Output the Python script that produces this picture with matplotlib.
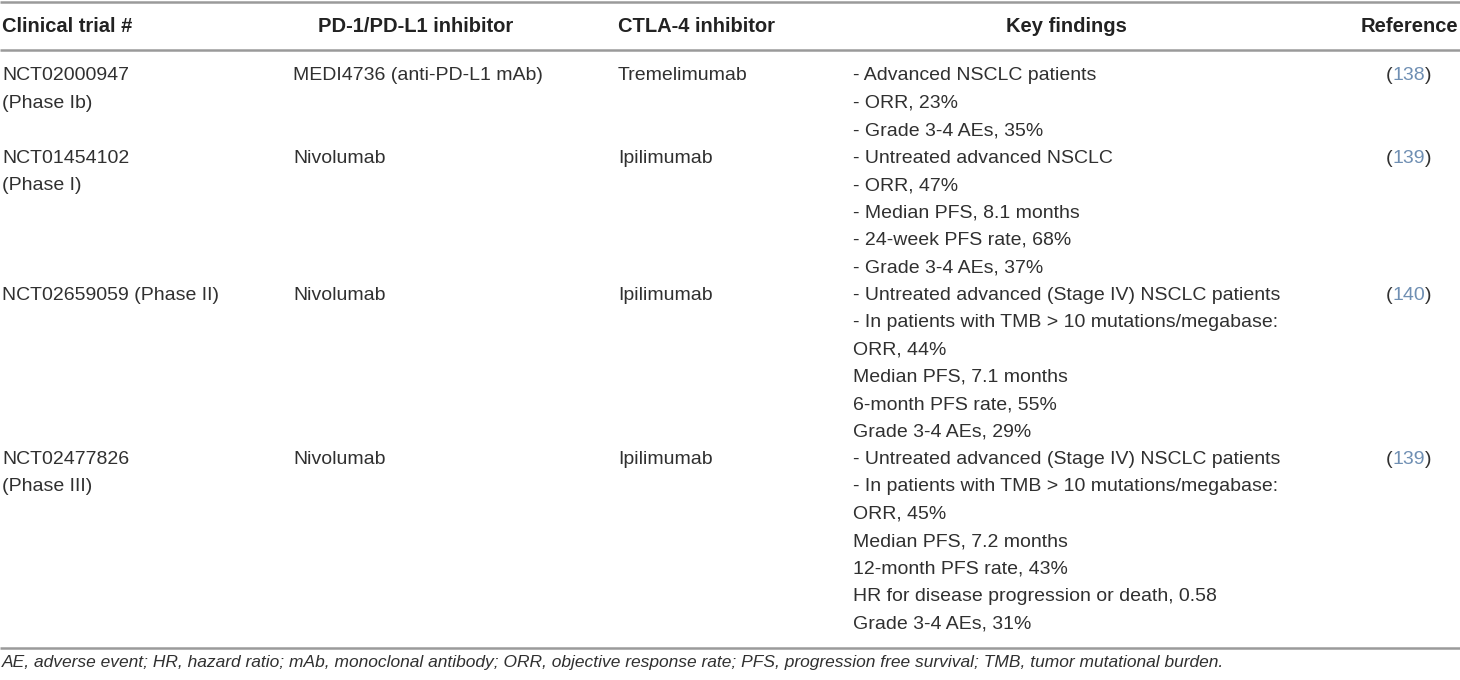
import matplotlib
matplotlib.use('Agg')
from matplotlib import pyplot

# table content
headers = ['Clinical trial #', 'PD-1/PD-L1 inhibitor', 'CTLA-4 inhibitor', 'Key findings', 'Reference']
trials = [['NCT02000947', '(Phase Ib)'],
          ['NCT01454102', '(Phase I)'],
          ['NCT02659059 (Phase II)'],
          ['NCT02477826', '(Phase III)']]
pd1_drugs = ['MEDI4736 (anti-PD-L1 mAb)', 'Nivolumab', 'Nivolumab', 'Nivolumab']
ctla4_drugs = ['Tremelimumab', 'Ipilimumab', 'Ipilimumab', 'Ipilimumab']
findings = [
    ['- Advanced NSCLC patients',
     '- ORR, 23%',
     '- Grade 3-4 AEs, 35%'],
    ['- Untreated advanced NSCLC',
     '- ORR, 47%',
     '- Median PFS, 8.1 months',
     '- 24-week PFS rate, 68%',
     '- Grade 3-4 AEs, 37%'],
    ['- Untreated advanced (Stage IV) NSCLC patients',
     '- In patients with TMB > 10 mutations/megabase:',
     'ORR, 44%',
     'Median PFS, 7.1 months',
     '6-month PFS rate, 55%',
     'Grade 3-4 AEs, 29%'],
    ['- Untreated advanced (Stage IV) NSCLC patients',
     '- In patients with TMB > 10 mutations/megabase:',
     'ORR, 45%',
     'Median PFS, 7.2 months',
     '12-month PFS rate, 43%',
     'HR for disease progression or death, 0.58',
     'Grade 3-4 AEs, 31%'],
]
refs = ['138', '139', '140', '139']
footnote = ('AE, adverse event; HR, hazard ratio; mAb, monoclonal antibody; ORR, objective response rate; '
            'PFS, progression free survival; TMB, tumor mutational burden.')

W, H = 1460, 680
fig = pyplot.figure(figsize=(W / 100, H / 100), dpi=100)
ax = fig.add_axes([0, 0, 1, 1])
ax.set_xlim(0, W)
ax.set_ylim(H, 0)
ax.axis('off')

pyplot.rcParams['font.family'] = ['Liberation Sans', 'DejaVu Sans']
fs = 14
fs_head = 14.5
txt_col = '#303030'
head_col = '#222222'
rule_col = '#9a9a9a'
link_col = '#6f8fb3'

# rules
for y in [2, 50, 648]:
    ax.plot([0, W], [y, y], color=rule_col, lw=1.8, solid_capstyle='butt')

# header
head_y = 27
ax.text(2, head_y, headers[0], fontsize=fs_head, fontweight='bold', color=head_col, va='center', ha='left')
ax.text(416, head_y, headers[1], fontsize=fs_head, fontweight='bold', color=head_col, va='center', ha='center')
ax.text(618, head_y, headers[2], fontsize=fs_head, fontweight='bold', color=head_col, va='center', ha='left')
ax.text(1066, head_y, headers[3], fontsize=fs_head, fontweight='bold', color=head_col, va='center', ha='center')
ax.text(1458, head_y, headers[4], fontsize=fs_head, fontweight='bold', color=head_col, va='center', ha='right')

# body
y0 = 76
dy = 27.4
line = 0
for i in range(len(trials)):
    y = y0 + line * dy
    for k, t in enumerate(trials[i]):
        ax.text(2, y + k * dy, t, fontsize=fs, color=txt_col, va='center')
    ax.text(293, y, pd1_drugs[i], fontsize=fs, color=txt_col, va='center')
    ax.text(618, y, ctla4_drugs[i], fontsize=fs, color=txt_col, va='center')
    for k, f in enumerate(findings[i]):
        ax.text(853, y + k * dy, f, fontsize=fs, color=txt_col, va='center')
    # reference "(nnn)" with coloured number
    t1 = ax.text(1386, y, '(', fontsize=fs, color=txt_col, va='center')
    t2 = ax.annotate(refs[i], xy=(1, 0), xycoords=t1, va='bottom', fontsize=fs, color=link_col)
    ax.annotate(')', xy=(1, 0), xycoords=t2, va='bottom', fontsize=fs, color=txt_col)
    line += max(len(trials[i]), len(findings[i]))

ax.text(2, 662, footnote, fontsize=12.5, style='italic', color=txt_col, va='center')

fig.savefig('out.png', dpi=100)
